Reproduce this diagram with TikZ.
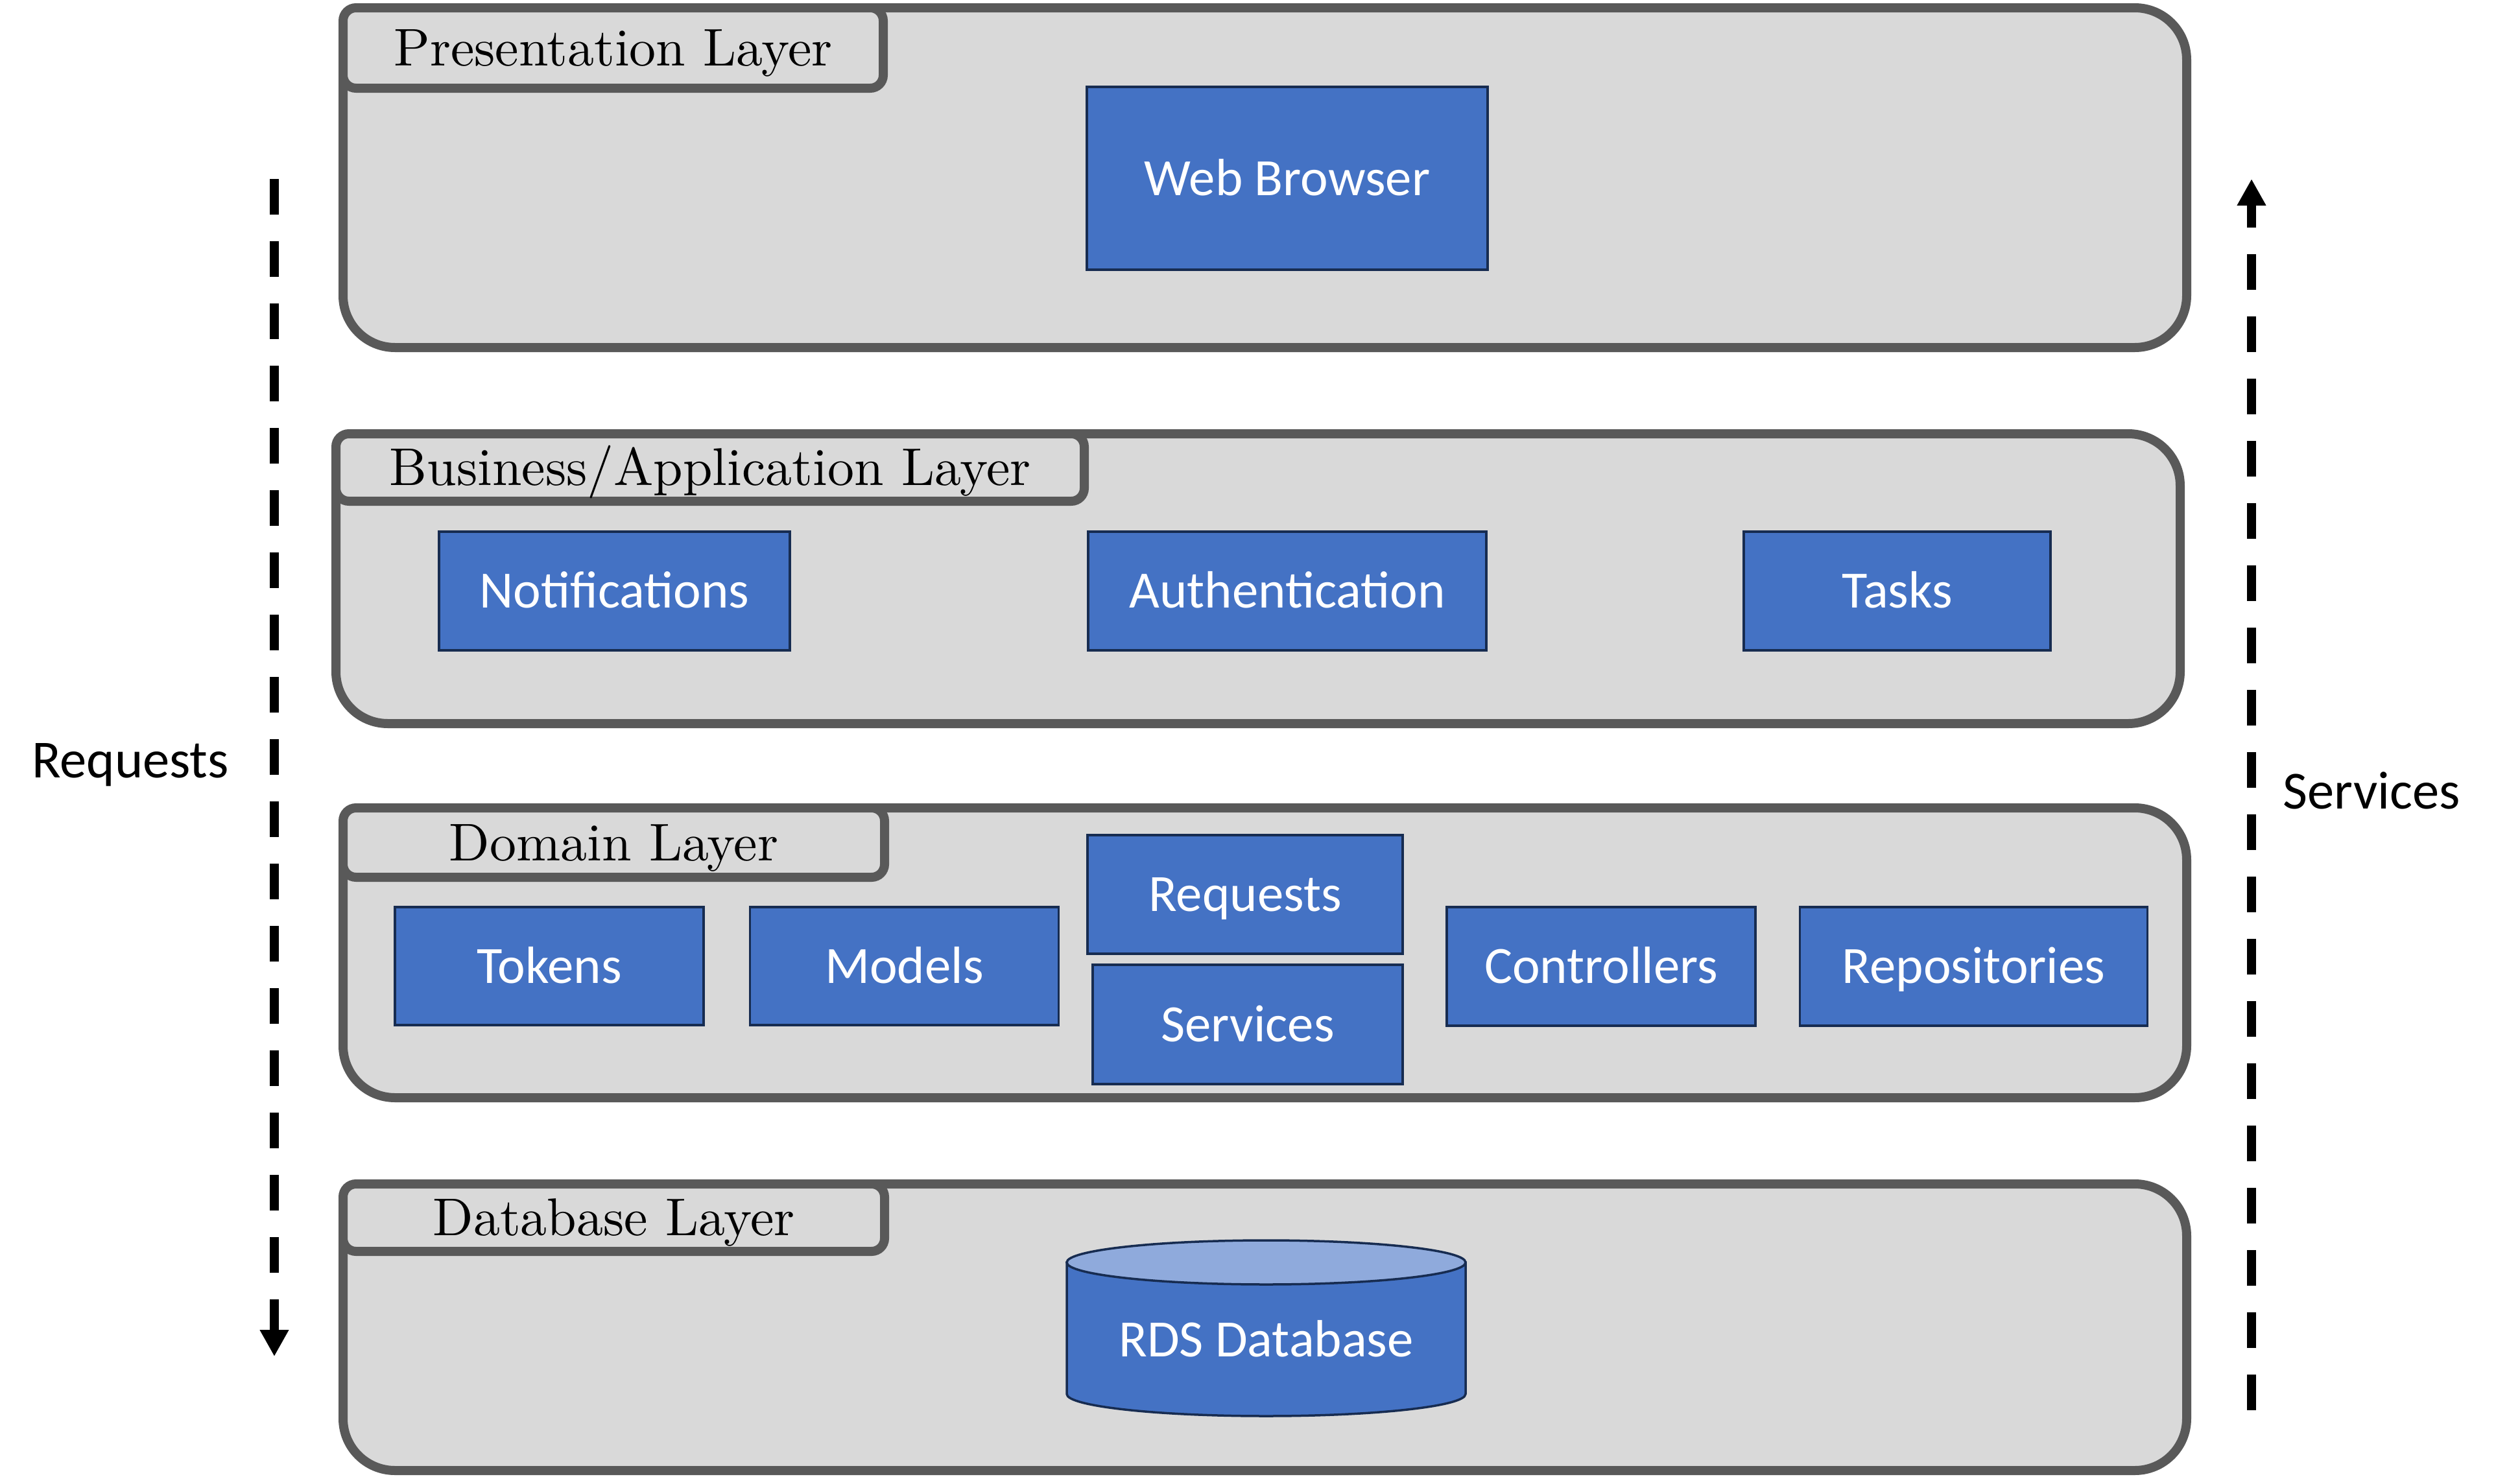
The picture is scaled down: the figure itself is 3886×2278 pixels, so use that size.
\documentclass[tikz,border=0pt]{standalone}
\usepackage{fontspec}
\usepackage{tikz}
\usetikzlibrary{arrows.meta,positioning,calc}
\newfontfamily\boxfont{Carlito}
\newfontfamily\tabfont{lmroman10-regular.otf}
\definecolor{layerfill}{HTML}{D9D9D9}
\definecolor{layerline}{HTML}{595959}
\definecolor{boxblue}{HTML}{4472C4}
\definecolor{boxline}{HTML}{172C51}
\definecolor{dbcap}{HTML}{8FAADC}

\begin{document}
\begin{tikzpicture}[
  x=0.1mm,y=-0.1mm,
  layer/.style={draw=layerline,fill=layerfill,line width=1.4mm,
                rounded corners=8mm,inner sep=0pt},
  tab/.style={draw=layerline,fill=layerfill,line width=1.4mm,rounded corners=2mm,
              anchor=north west,inner sep=0pt,font=\tabfont\fontsize{23.3}{28}\selectfont,
              text height=15.9pt,text depth=0pt},
  blk/.style={draw=boxline,fill=boxblue,line width=0.35mm,text=white,inner sep=0pt,
              font=\boxfont\fontsize{23}{28}\selectfont,text height=14.8pt,text depth=0pt},
  dbtext/.style={text=white,inner sep=0pt,
              font=\boxfont\fontsize{23}{28}\selectfont,text height=14.8pt,text depth=0pt},
  dbline/.style={draw=boxline,line width=0.35mm},
  side/.style={inner sep=0pt,font=\boxfont\fontsize{23.5}{28}\selectfont,
               text height=15.1pt,text depth=0pt},
  flow/.style={line width=1.4mm,dash pattern=on 5.5mm off 4.1mm,
               -{Triangle[length=4.1mm,width=4.2mm]}}
]
\fill[white] (0,0) rectangle (3886,2278);
\useasboundingbox (0,0) rectangle (3886,2278);

% ---- presentation layer
\node[layer,minimum width=284.3mm,minimum height=52.4mm] (pres) at (1950.5,274) {};
\node[tab,minimum width=83.3mm,minimum height=12.4mm] (prestab) at (pres.north west) {Presentation Layer};
\node[blk,minimum width=61.8mm,minimum height=28.2mm] (web) at (1985,275) {Web Browser};

% ---- business/application layer
\node[layer,minimum width=284.4mm,minimum height=44.7mm] (bus) at (1940,892.5) {};
\node[tab,minimum width=115.4mm,minimum height=10.4mm] (bustab) at (bus.north west) {Business/Application Layer};
\node[blk,minimum width=54.1mm,minimum height=18.3mm] (notif) at (947.5,911.5) {Notifications};
\node[blk,minimum width=61.4mm,minimum height=18.3mm] (auth) at (1985,911.5) {Authentication};
\node[blk,minimum width=47.3mm,minimum height=18.3mm] (tasks) at (2925.5,911.5) {Tasks};

% ---- domain layer
\node[layer,minimum width=284.3mm,minimum height=44.7mm] (dom) at (1950.5,1469.5) {};
\node[tab,minimum width=83.5mm,minimum height=10.7mm] (domtab) at (dom.north west) {Domain Layer};
\node[blk,minimum width=47.6mm,minimum height=18.2mm] (tokens) at (847,1490) {Tokens};
\node[blk,minimum width=47.6mm,minimum height=18.2mm,right=6.8mm of tokens] (models) {Models};
\node[blk,minimum width=48.6mm,minimum height=18.3mm] (req) at (1920,1379.5) {Requests};
\node[blk,minimum width=47.8mm,minimum height=18.4mm] (serv) at (1924,1580) {Services};
\node[blk,minimum width=47.6mm,minimum height=18.3mm] (ctrl) at (2469,1490.5) {Controllers};
\node[blk,minimum width=53.6mm,minimum height=18.3mm,right=6.5mm of ctrl] (repo) {Repositories};

% ---- database layer
\node[layer,minimum width=284.3mm,minimum height=44.2mm] (db) at (1950.5,2047) {};
\node[tab,minimum width=83.5mm,minimum height=10.4mm] (dbtab) at (db.north west) {Database Layer};
\coordinate (dbtop) at (1952.5,1947);
\draw[dbline,fill=boxblue] ($(dbtop)+(-307.5,0)$) -- ++(0,203)
  arc[start angle=180,end angle=360,x radius=30.75mm,y radius=3.4mm]
  -- ($(dbtop)+(307.5,0)$) -- cycle;
\draw[dbline,fill=dbcap] (dbtop) ellipse[x radius=30.75mm,y radius=3.4mm];
\node[dbtext] (rds) at ($(dbtop)+(0,119)$) {RDS Database};

% ---- request / service flows
\coordinate (reqa) at (423,276);
\coordinate (reqb) at (423,2092);
\draw[flow] (reqa) -- (reqb);
\node[side] (reqlbl) at (201,1173) {Requests};
\coordinate (serva) at (3472,2175);
\coordinate (servb) at (3472,276);
\draw[flow] (serva) -- (servb);
\node[side] (servlbl) at (3657,1221) {Services};
\end{tikzpicture}
\end{document}
